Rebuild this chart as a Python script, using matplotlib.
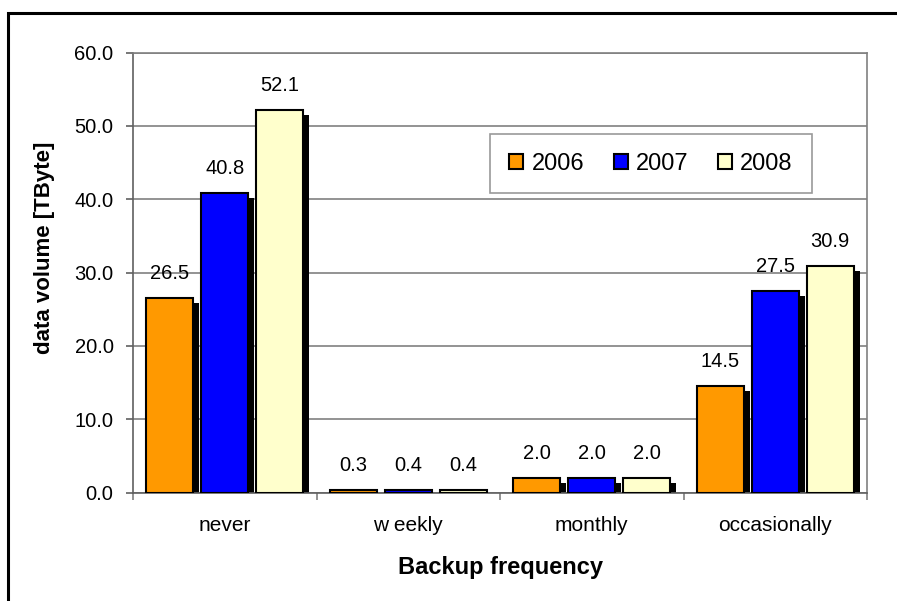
import matplotlib.pyplot as plt
import matplotlib.patches as mpatches
import numpy as np

plt.rcParams['font.family'] = ['Liberation Sans', 'DejaVu Sans']

# data
categories = ["never", "w eekly", "monthly", "occasionally"]
years = ["2006", "2007", "2008"]
v2006 = [26.5, 0.3, 2.0, 14.5]
v2007 = [40.8, 0.4, 2.0, 27.5]
v2008 = [52.1, 0.4, 2.0, 30.9]
colors = ["#FF9900", "#0000FF", "#FFFFCC"]

fig = plt.figure(figsize=(8.97, 6.01), dpi=100)
ax = fig.add_axes([133 / 897, 1 - 492.5 / 601, 734 / 897, 440 / 601])

# outer chart frame
fig.patches.append(mpatches.Rectangle((8 / 897, -0.1), 1.2, 1 - 13 / 601 + 0.1,
                                      transform=fig.transFigure, fill=False,
                                      edgecolor="black", linewidth=2.2))

x = np.arange(len(categories))
width = 0.256
step = 0.3
# shadow offset in data units (approx 6 px right, 5 px down)
dx = 6 / 183.5
dy = 5 / (440 / 60)

for i, (vals, col) in enumerate(zip([v2006, v2007, v2008], colors)):
    pos = x + (i - 1) * step
    shadow = [max(v - dy, 0) for v in vals]
    ax.bar(pos + dx, shadow, width, color="black", zorder=2)
    ax.bar(pos, vals, width, color=col, edgecolor="black", linewidth=1.5,
           zorder=3, label=years[i])
    for p, v in zip(pos, vals):
        ax.annotate(f"{v:.1f}", (p, v), xytext=(0, 13.7), textcoords="offset points",
                    ha="center", va="baseline", fontsize=14.5)

ax.set_xlim(-0.5, 3.5)
ax.set_ylim(0, 60)
ax.set_yticks(np.arange(0, 61, 10))
ax.set_yticklabels([f"{t:.1f}" for t in np.arange(0, 61, 10)], fontsize=14.5)
ax.yaxis.grid(True, color="#808080", linewidth=1.2, zorder=0)
ax.set_axisbelow(True)

ax.set_xticks(x)
ax.set_xticklabels(categories, fontsize=15)
ax.tick_params(axis="x", which="major", length=0, pad=17)
ax.set_xticks(np.arange(-0.5, 4, 1), minor=True)
ax.tick_params(axis="x", which="minor", length=5, color="#808080", width=1.2)
ax.tick_params(axis="y", length=5, color="#606060", width=1.2, pad=9)

for s in ["left", "bottom"]:
    ax.spines[s].set_color("#606060")
    ax.spines[s].set_linewidth(1.2)
for s in ["right", "top"]:
    ax.spines[s].set_color("#808080")
    ax.spines[s].set_linewidth(1.2)

ax.set_ylabel("data volume [TByte]", fontsize=16, fontweight="bold")
ax.yaxis.set_label_coords(-78 / 734, 0.555)
ax.set_xlabel("Backup frequency", fontsize=17, fontweight="bold", labelpad=15)

leg = ax.legend(ncol=3, loc="center", bbox_to_anchor=((651 - 133) / 734, (492.5 - 163.5) / 440),
                fontsize=17, frameon=True, fancybox=False, handlelength=0.6,
                handleheight=0.6, handletextpad=0.34, columnspacing=1.25,
                borderpad=0.8)
leg.get_frame().set_edgecolor("#808080")
leg.get_frame().set_linewidth(1.2)

fig.savefig("out.png", dpi=100)
